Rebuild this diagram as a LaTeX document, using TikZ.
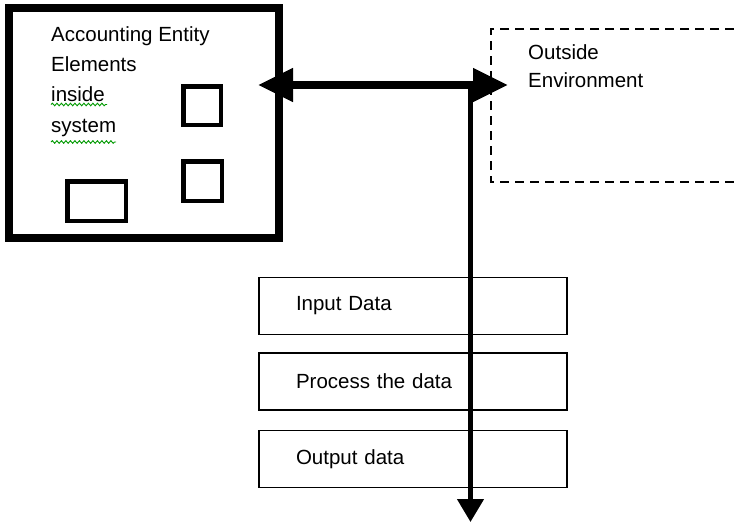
\documentclass[tikz,border=0pt]{standalone}
\usepackage{fontspec}
\setmainfont{Liberation Sans}
\usetikzlibrary{arrows.meta,decorations.pathmorphing}
\begin{document}
\begin{tikzpicture}[x=1pt,y=-1pt,
  lbl/.style={anchor=base west,inner sep=0,font=\fontsize{20.5pt}{30pt}\selectfont},
  bigbox/.style={draw,line width=8pt,inner sep=0,minimum width=270pt,minimum height=230pt},
  elem/.style={draw,line width=4.5pt,inner sep=0},
  databox/.style={draw,line width=1.5pt,minimum width=308pt,minimum height=57pt,inner xsep=37pt,inner ysep=0,text width=234pt,align=left,font=\fontsize{20.5pt}{24pt}\selectfont},
  harrow/.style={line width=7.5pt,{Triangle[length=35pt,width=32pt]}-{Triangle[length=35pt,width=32pt]}},
  varrow/.style={line width=4.5pt,-{Triangle[length=23pt,width=26pt]}},
  envbox/.style={line width=1.3pt,dash pattern=on 9pt off 6pt},
  squig/.style={draw=green!60!black,line width=0.9pt,decorate,decoration={snake,segment length=4.5pt,amplitude=1.3pt}}]
\path[use as bounding box] (0,0) rectangle (734,523);
% accounting entity
\node[bigbox] (ent) at (144,123) {};
\node[lbl] (t1) at (51,41) {Accounting Entity};
\node[lbl] (t2) at (51,71) {Elements};
\node[lbl] (t3) at (51,101) {inside};
\node[lbl] (t4) at (51,132) {system};
\draw[squig] (51,104.5) -- (107,104.5);
\draw[squig] (51,142) -- (116,142);
\node[elem,minimum width=37.5pt,minimum height=38.5pt] (sq1) at (202,105.5) {};
\node[elem,minimum width=38.5pt,minimum height=39.5pt] (sq2) at (202.5,181) {};
\node[elem,minimum width=58.5pt,minimum height=39.5pt] (rc) at (96.5,201) {};
% outside environment
\coordinate (o1) at (734,29);
\coordinate (o2) at (491,29);
\coordinate (o3) at (491,182);
\coordinate (o4) at (734,182);
\draw[envbox] (o1) -- (o2) -- (o3) -- (o4);
\node[lbl] (e1) at (528,59) {Outside};
\node[lbl] (e2) at (528,87) {Environment};
% data boxes
\node[databox] (in) at (413,306) {Input Data};
\node[databox] (pr) at (413,381.5) {Process the data};
\node[databox] (out) at (413,459) {Output data};
% arrows
\coordinate (lt) at (258,85);
\coordinate (rt) at (508,85);
\coordinate (j) at (470.5,85);
\coordinate (end) at (470.5,522);
\draw[varrow] (j) -- (end);
\draw[harrow] (lt) -- (rt);
\end{tikzpicture}
\end{document}
